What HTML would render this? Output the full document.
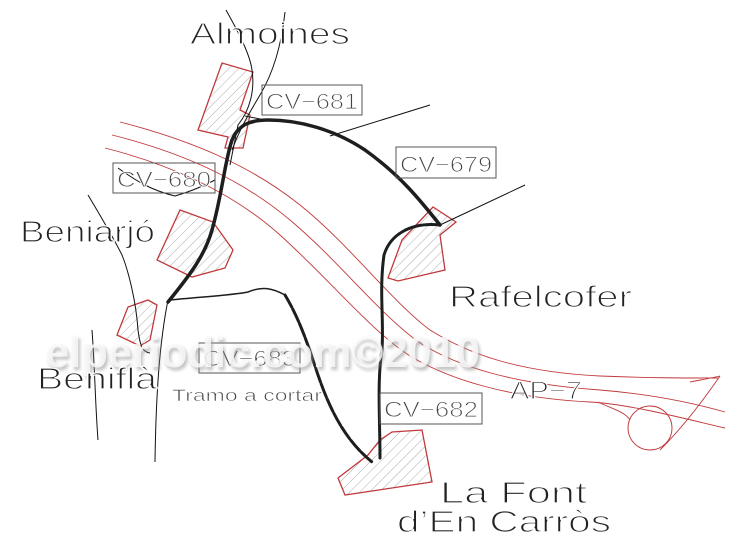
<!DOCTYPE html>
<html><head><meta charset="utf-8"><style>
html,body{margin:0;padding:0;background:#fff;}
svg{display:block;}
text{font-family:"Liberation Sans",sans-serif;}
.t{stroke:#fff;stroke-width:1.2;}
</style></head><body>
<svg width="746" height="550" viewBox="0 0 746 550" xmlns="http://www.w3.org/2000/svg">
<defs>
<pattern id="h" width="7" height="7" patternUnits="userSpaceOnUse" patternTransform="rotate(45)">
<line x1="0" y1="0" x2="0" y2="7" stroke="#888" stroke-width="0.7"/>
</pattern>
<filter id="sh" x="-5%" y="-30%" width="110%" height="160%"><feGaussianBlur stdDeviation="1.5"/></filter>
</defs>
<rect width="746" height="550" fill="#fff"/>
<g fill="none" stroke="#c0393b" stroke-width="0.9">
<path d="M120,122 C190,140 250,165 300,205 C350,245 390,300 430,330 C470,355 520,372 600,376 C650,378 680,378 718,378"/>
<path d="M112,135 C180,152 240,178 290,220 C340,262 380,315 420,343 C460,368 515,384 600,390 C650,394 690,402 725,412"/>
<path d="M105,148 C172,165 232,192 280,235 C330,280 370,330 410,356 C450,380 510,398 590,402 C630,404 690,420 725,428"/>
<path d="M598,402 C615,410 625,412 630,420"/>
<circle cx="650" cy="428" r="22"/>
<path d="M660,450 C680,430 700,405 720,376"/>
<path d="M690,382 C700,380 712,378 720,376"/>
</g>
<g fill="url(#h)" stroke="#c0393b" stroke-width="1.3">
<polygon points="198,130 222,63 253,72 240,110 250,115 243,148 225,148 228,137"/>
<polygon points="157,260 180,210 213,222 233,250 225,268 192,277"/>
<polygon points="117,335 128,307 148,300 157,305 150,340 140,346"/>
<polygon points="388,278 402,240 433,207 456,222 440,235 445,270 398,281"/>
<polygon points="338,478 368,455 380,440 392,432 422,430 432,482 345,495"/>
</g>
<g fill="none" stroke="#111" stroke-width="1">
<path d="M226,10 C240,35 250,55 252,70 C255,90 250,110 238,125 L230,165"/>
<path d="M285,12 C282,40 275,70 260,95 C250,112 240,128 232,150"/>
<path d="M245,116 L265,120"/>
<path d="M330,136 L430,105"/>
<path d="M440,225 L525,185"/>
<path d="M88,195 C100,215 112,235 122,255 C128,270 136,300 138,330 C140,345 142,352 150,353"/>
<path d="M92,330 C95,370 95,400 98,440"/>
<path d="M168,300 C160,340 156,390 155,462"/>
<path d="M118,168 C135,180 150,190 175,196 C195,190 205,185 215,180"/>
</g>
<g fill="none" stroke="#1c1f1e" stroke-linecap="round">
<path d="M168,302 C190,275 205,255 212,230 C222,195 225,160 232,140 C238,125 250,120 268,120 C300,120 335,130 365,150 C400,175 420,200 440,225" stroke-width="3.5"/>
<path d="M440,225 C410,222 390,235 384,255 C379,290 384,320 382,350 C377,380 380,420 380,458" stroke-width="3"/>
<path d="M170,300 C200,297 235,295 248,292 C262,286 272,288 285,295" stroke-width="1.5"/>
<path d="M285,295 C300,320 308,345 318,375 C330,410 345,440 372,462" stroke-width="3" stroke-dasharray="14,2"/>
</g>
<g fill="none" stroke="#555" stroke-width="1">
<rect x="262" y="85" width="100" height="30"/>
<rect x="113" y="163" width="102" height="30"/>
<rect x="396" y="147" width="100" height="31"/>
<rect x="199" y="343" width="101" height="30"/>
<rect x="380" y="393" width="102" height="31"/>
</g>
<g font-size="22" class="t" style="fill:#444;stroke-width:0.9">
<text x="266" y="109" textLength="92" lengthAdjust="spacingAndGlyphs">CV−681</text>
<text x="117" y="187" textLength="94" lengthAdjust="spacingAndGlyphs">CV−680</text>
<text x="400" y="172" textLength="92" lengthAdjust="spacingAndGlyphs">CV−679</text>
<text x="203" y="366" textLength="93" lengthAdjust="spacingAndGlyphs">CV−683</text>
<text x="384" y="417" textLength="94" lengthAdjust="spacingAndGlyphs">CV−682</text>
</g>
<text x="47" y="370" font-size="44" font-weight="bold" style="fill:#999;opacity:0.6" filter="url(#sh)" textLength="435" lengthAdjust="spacingAndGlyphs">elperiodic.com©2010</text>
<text x="45" y="367" font-size="44" font-weight="bold" style="fill:#fafafa;opacity:0.85" textLength="435" lengthAdjust="spacingAndGlyphs">elperiodic.com©2010</text>
<g font-size="31" class="t" style="fill:#222">
<text x="190" y="44" textLength="160" lengthAdjust="spacingAndGlyphs">Almoines</text>
<text x="20" y="242" textLength="135" lengthAdjust="spacingAndGlyphs">Beniarjó</text>
<text x="449" y="307" textLength="183" lengthAdjust="spacingAndGlyphs">Rafelcofer</text>
<text x="37" y="389" textLength="120" lengthAdjust="spacingAndGlyphs">Beniflà</text>
<text x="440" y="503" textLength="147" lengthAdjust="spacingAndGlyphs">La Font</text>
<text x="397" y="532" textLength="214" lengthAdjust="spacingAndGlyphs">d’En Carròs</text>
</g>
<text x="510" y="399" font-size="25" class="t" style="fill:#222" textLength="72" lengthAdjust="spacingAndGlyphs">AP−7</text>
<text x="172" y="401" font-size="17" class="t" style="fill:#444;stroke-width:0.6" textLength="150" lengthAdjust="spacingAndGlyphs">Tramo a cortar</text>
</svg>
</body></html>
